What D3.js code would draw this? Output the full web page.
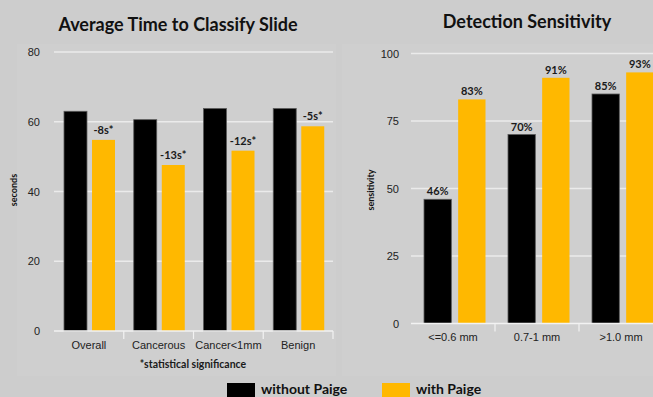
<!DOCTYPE html>
<html lang="en">
<head>
<meta charset="UTF-8">
<title>Paige charts</title>
<script src="https://d3js.org/d3.v7.min.js"></script>
<style>
  body { margin: 0; background: #cdcdcd; }
  svg { display: block; font-family: Lato, "Noto Sans", sans-serif; }
  .tick text { fill: #222; }
</style>
</head>
<body>
<div id="chart"></div>
<script>
// left chart: average time to classify (seconds)
var timeCats = ["Overall", "Cancerous", "Cancer<1mm", "Benign"];
var timeWithout = [63, 60.6, 63.8, 63.8];
var timeWith = [54.8, 47.6, 51.7, 58.7];
var timeDiff = ["-8s*", "-13s*", "-12s*", "-5s*"];
var timeTicks = [0, 20, 40, 60, 80];

// right chart: detection sensitivity (%)
var sensCats = ["<=0.6 mm", "0.7-1 mm", ">1.0 mm"];
var sensWithout = [46, 70, 85];
var sensWith = [83, 91, 93];
var sensTicks = [0, 25, 50, 75, 100];

var seriesNames = ["without Paige", "with Paige"];
var colors = { "without Paige": "#000000", "with Paige": "#ffb800" };

var width = 653, height = 397;
var svg = d3.select("#chart").append("svg")
    .attr("width", width).attr("height", height);

svg.append("rect").attr("width", width).attr("height", height).attr("fill", "#cdcdcd");
// faint panels behind each plot
svg.append("rect").attr("x", 17).attr("y", 44).attr("width", 319).attr("height", 332).attr("fill", "#cfcfcf");
svg.append("rect").attr("x", 342).attr("y", 44).attr("width", 320).attr("height", 332).attr("fill", "#cfcfcf");

function drawChart(opt) {
    var g = svg.append("g");
    var y = d3.scaleLinear().domain(opt.domain).range(opt.yRange);
    var x0 = d3.scaleBand().domain(opt.cats).range(opt.xRange);
    var x1 = d3.scaleBand().domain(seriesNames).range(opt.inner).paddingInner(opt.innerPad);

    // gridlines
    g.selectAll(".grid").data(opt.ticks.filter(function(t) { return t > 0; }))
        .enter().append("line")
        .attr("x1", opt.xRange[0]).attr("x2", opt.gridEnd)
        .attr("y1", function(d) { return y(d); }).attr("y2", function(d) { return y(d); })
        .attr("stroke", "#ebebeb").attr("stroke-width", 1.5);

    // y axis labels
    var ya = g.append("g")
        .attr("transform", "translate(" + opt.yLabelX + ",0)")
        .call(d3.axisLeft(y).tickValues(opt.ticks).tickSize(0).tickPadding(0));
    ya.select(".domain").remove();
    ya.selectAll("text").style("font-size", "11px");

    // bars
    var rows = opt.cats.map(function(c, i) {
        return { cat: c, vals: [opt.without[i], opt.with[i]], label: opt.labels[i] };
    });
    var grp = g.selectAll(".grp").data(rows).enter().append("g")
        .attr("transform", function(d) { return "translate(" + x0(d.cat) + ",0)"; });
    grp.selectAll("rect").data(function(d) {
        return seriesNames.map(function(s, j) { return { key: s, value: d.vals[j] }; });
    }).enter().append("rect")
        .attr("x", function(d) { return x1(d.key); })
        .attr("width", x1.bandwidth())
        .attr("y", function(d) { return y(d.value); })
        .attr("height", function(d) { return y(0) - y(d.value); })
        .attr("fill", function(d) { return colors[d.key]; })
        .attr("stroke", function(d) { return d.key === "without Paige" ? "#5a5a5a" : "none"; })
        .attr("stroke-width", 0.8);

    // value labels
    opt.labelSeries.forEach(function(s, j) {
        grp.append("text")
            .attr("x", x1(s) + x1.bandwidth() / 2)
            .attr("y", function(d) { return y(d.vals[seriesNames.indexOf(s)]) - opt.labelGap; })
            .attr("text-anchor", "middle")
            .style("font-size", "11px").style("font-weight", "bold").attr("fill", "#1a1a1a")
            .text(function(d) { return opt.labelFn(d, s); });
    });

    // x axis
    var xa = g.append("g")
        .attr("transform", "translate(0," + y(0) + ")")
        .call(d3.axisBottom(x0).tickSize(0).tickPadding(10));
    xa.select(".domain").remove();
    xa.selectAll("text").style("font-size", "11px").attr("fill", "#222");
    g.append("line")
        .attr("x1", opt.xRange[0]).attr("x2", opt.gridEnd)
        .attr("y1", y(0)).attr("y2", y(0))
        .attr("stroke", "#f2f2f2").attr("stroke-width", 1.5);
    g.selectAll(".sep").data(opt.cats.slice(1).concat(["end"])).enter().append("line")
        .attr("x1", function(d) { return d === "end" ? opt.xRange[1] : x0(d); })
        .attr("x2", function(d) { return d === "end" ? opt.xRange[1] : x0(d); })
        .attr("y1", y(0)).attr("y2", y(0) + 8)
        .attr("stroke", "#f2f2f2").attr("stroke-width", 1.2);

    // titles
    g.append("text").attr("x", opt.titleX).attr("y", opt.titleY)
        .attr("text-anchor", "middle")
        .style("font-size", "18px").style("font-weight", "bold").attr("fill", "#111")
        .text(opt.title);
    g.append("text")
        .attr("transform", "translate(" + opt.axisTitleX + ",190) rotate(-90)")
        .attr("text-anchor", "middle")
        .style("font-size", "9px").style("font-weight", "bold").attr("fill", "#111")
        .text(opt.axisTitle);
    return g;
}

drawChart({
    cats: timeCats, without: timeWithout, with: timeWith,
    labels: timeDiff, ticks: timeTicks, domain: [0, 80],
    yRange: [331, 52], xRange: [54, 333], gridEnd: 333,
    inner: [10, 61], innerPad: 0.18, yLabelX: 40,
    labelSeries: ["with Paige"], labelGap: 6,
    labelFn: function(d) { return d.label; },
    title: "Average Time to Classify Slide", titleX: 178, titleY: 31,
    axisTitle: "seconds", axisTitleX: 17
});

drawChart({
    cats: sensCats, without: sensWithout, with: sensWith,
    labels: sensCats, ticks: sensTicks, domain: [0, 100],
    yRange: [323.5, 53.5], xRange: [411, 663], gridEnd: 660,
    inner: [13, 74.5], innerPad: 0.2, yLabelX: 399,
    labelSeries: ["without Paige", "with Paige"], labelGap: 4,
    labelFn: function(d, s) { return d.vals[seriesNames.indexOf(s)] + "%"; },
    title: "Detection Sensitivity", titleX: 527, titleY: 28,
    axisTitle: "sensitivity", axisTitleX: 374
});

svg.append("text").attr("x", 193).attr("y", 368)
    .attr("text-anchor", "middle")
    .style("font-size", "10.5px").style("font-weight", "bold").attr("fill", "#1a1a1a")
    .text("*statistical significance");

// legend
var legendX = [227, 382];
var legend = svg.selectAll(".legend").data(seriesNames).enter().append("g")
    .attr("transform", function(d, i) { return "translate(" + legendX[i] + ",383)"; });
legend.append("rect").attr("width", 28).attr("height", 16)
    .attr("fill", function(d) { return colors[d]; });
legend.append("text").attr("x", 34).attr("y", 11)
    .style("font-size", "14px").style("font-weight", "bold").attr("fill", "#111")
    .text(function(d) { return d; });
</script>
</body>
</html>
